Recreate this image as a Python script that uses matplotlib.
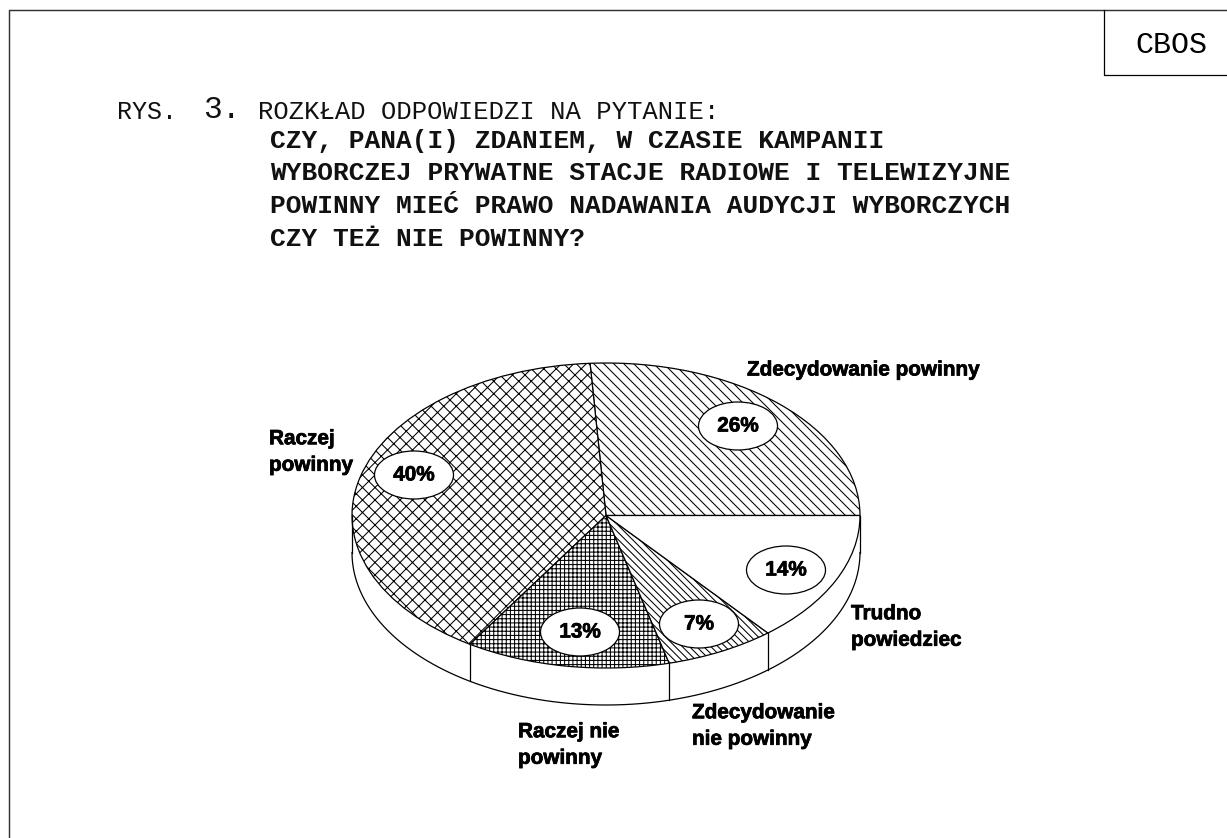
import matplotlib
matplotlib.use('Agg')
import numpy as np
import matplotlib.pyplot as plt
import matplotlib.patheffects as pe
from matplotlib.patches import Ellipse

# data, counter clockwise from the right edge
labels = ['Zdecydowanie powinny', 'Raczej\npowinny', 'Raczej nie\npowinny',
          'Zdecydowanie\nnie powinny', 'Trudno\npowiedziec']
values = [26, 40, 13, 7, 14]
hatches = ['\\' * 5, 'x' * 4, '+' * 6, '\\' * 7, '']

title_lines = ['CZY, PANA(I) ZDANIEM, W CZASIE KAMPANII',
               'WYBORCZEJ PRYWATNE STACJE RADIOWE I TELEWIZYJNE',
               'POWINNY MIEĆ PRAWO NADAWANIA AUDYCJI WYBORCZYCH',
               'CZY TEŻ NIE POWINNY?']

# where things sit on the page, in pixels
label_pos = [(747, 370), (269, 452), (518, 745), (692, 726), (851, 627)]
bubble_pos = [(738, 426), (414, 475), (580, 632), (699, 624), (786, 570)]
title_y = [141, 173, 206, 239]

W, H, DPI = 1227, 838, 150
CX, CY, RX, RY, DEPTH = 606, 515.5, 254, 152.5, 37

plt.rcParams['hatch.linewidth'] = 0.5

fig = plt.figure(figsize=(W / DPI, H / DPI), dpi=DPI, facecolor='white')

# pie gets its own axes so the circle can be squashed into an ellipse
ax_pie = fig.add_axes([(CX - RX) / W, 1 - (CY + RY) / H, 2 * RX / W, 2 * RY / H])
wedges, _ = ax_pie.pie(values, startangle=0, counterclock=True, radius=1,
                       colors=['white'] * len(values),
                       wedgeprops={'edgecolor': 'black', 'linewidth': 0.6})
for w, h in zip(wedges, hatches):
    w.set_hatch(h)
ax_pie.set_aspect('auto')
ax_pie.set_xlim(-1, 1)
ax_pie.set_ylim(-1, 1)
ax_pie.axis('off')

# side wall of the disc
d = DEPTH / RY
t = np.linspace(np.pi, 2 * np.pi, 200)
ax_pie.plot(np.cos(t), np.sin(t) - d, color='black', lw=0.6, clip_on=False)
edges = [w.theta1 for w in wedges] + [180.0]
for a in edges:
    r = np.radians(a)
    if np.sin(r) <= 1e-9:
        ax_pie.plot([np.cos(r)] * 2, [np.sin(r), np.sin(r) - d], color='black',
                    lw=0.6, clip_on=False)

# page axes in pixel coordinates, on top of the pie
ax = fig.add_axes([0, 0, 1, 1], facecolor='none')
ax.set_xlim(0, W)
ax.set_ylim(H, 0)
ax.axis('off')

# frame and CBOS box
ax.plot([9, 9, W], [H, 10, 10], color='#333333', lw=0.7)
ax.plot([1104, 1104, W], [10, 75, 75], color='black', lw=0.6)
ax.text(1171, 45, 'CBOS', family='Liberation Mono', fontsize=14.4, ha='center', va='center')

# heading
mono = {'family': 'Liberation Mono', 'va': 'center', 'ha': 'left', 'color': '#111111'}
ax.text(117, 112, 'RYS.', fontsize=12, **mono)
ax.text(203, 110, '3.', fontsize=15, **mono)
ax.text(258, 112, 'ROZKŁAD ODPOWIEDZI NA PYTANIE:', fontsize=12.3, **mono)
for y, line in zip(title_y, title_lines):
    ax.text(270, y, line, fontsize=12.6, fontweight='bold', **mono)

# labels were printed heavy, a thin stroke thickens the bold
heavy = [pe.withStroke(linewidth=0.35, foreground='black')]
sans = {'family': 'Liberation Sans', 'fontweight': 'bold', 'fontsize': 9.95,
        'path_effects': heavy}
for (x, y), lab in zip(label_pos, labels):
    ax.text(x, y, lab, ha='left', va='center', linespacing=1.5, **sans)

for (x, y), v in zip(bubble_pos, values):
    ax.add_patch(Ellipse((x, y), 79, 48, facecolor='white', edgecolor='black', lw=0.6))
    ax.text(x, y, f'{v}%', ha='center', va='center', **sans)

fig.savefig('out.png', dpi=DPI)
